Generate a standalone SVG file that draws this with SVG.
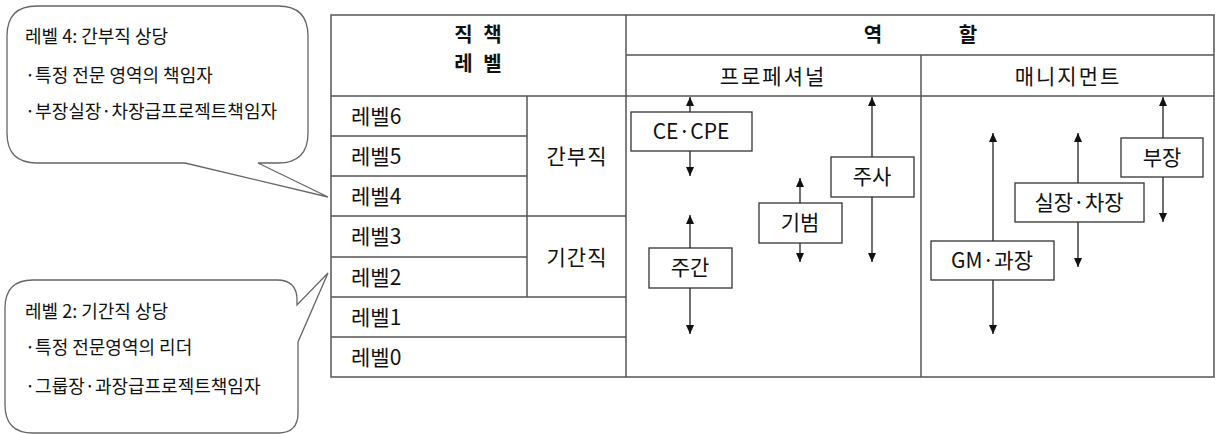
<svg xmlns="http://www.w3.org/2000/svg" width="1215" height="434" viewBox="0 0 1215 434">
<style>
text{font-family:"Noto Sans CJK KR","Malgun Gothic",sans-serif;fill:#111;}
.grid{stroke:#555;stroke-width:1.5;fill:none;}
.callout{stroke:#666;stroke-width:1.3;fill:#fff;}
.ct{font-size:18px;}
.lv{font-size:21px;}
.hd{font-size:20px;font-weight:bold;}
.sub{font-size:21px;letter-spacing:2px;}
.box{fill:#fff;stroke:#333;stroke-width:1.3;}
.bt{font-size:21px;}
.arr{stroke:#222;stroke-width:1.3;fill:none;marker-end:url(#ah);}
</style>
<defs>
<marker id="ah" markerUnits="userSpaceOnUse" markerWidth="10" markerHeight="8" refX="9" refY="4" orient="auto" viewBox="0 0 10 8">
<path d="M0,0 L9,4 L0,8 Z" fill="#111"/>
</marker>
</defs>
<rect width="1215" height="434" fill="#fff"/>

<g id="callout-1">
<path class="callout" d="M37,6 H278 Q308,6 308,36 V133 Q308,163 278,163 H258 L328,197 L185,163 H37 Q7,163 7,133 V36 Q7,6 37,6 Z"/>
<text class="ct" x="25" y="43">레벨 4: 간부직 상당</text>
<text class="ct" x="25" y="82">·특정 전문 영역의 책임자</text>
<text class="ct" x="25" y="118">·부장실장·차장급프로젝트책임자</text>
</g>

<g id="callout-2">
<path class="callout" d="M33,280 H277 Q297,280 297,300 V305 L328,273 L298,342 V413 Q298,433 278,433 H33 Q5,433 5,405 V308 Q5,280 33,280 Z"/>
<text class="ct" x="25" y="318">레벨 2: 기간직 상당</text>
<text class="ct" x="25" y="354">·특정 전문영역의 리더</text>
<text class="ct" x="25" y="393">·그룹장·과장급프로젝트책임자</text>
</g>

<g id="table">
<rect class="grid" x="331" y="15" width="883" height="362"/>
<line class="grid" x1="626" y1="55" x2="1214" y2="55"/>
<line class="grid" x1="331" y1="96" x2="1214" y2="96"/>
<line class="grid" x1="626" y1="15" x2="626" y2="377"/>
<line class="grid" x1="921" y1="55" x2="921" y2="377"/>
<line class="grid" x1="527" y1="96" x2="527" y2="297"/>
<line class="grid" x1="331" y1="136" x2="527" y2="136"/>
<line class="grid" x1="331" y1="176" x2="527" y2="176"/>
<line class="grid" x1="331" y1="216" x2="626" y2="216"/>
<line class="grid" x1="331" y1="257" x2="527" y2="257"/>
<line class="grid" x1="331" y1="297" x2="626" y2="297"/>
<line class="grid" x1="331" y1="337" x2="626" y2="337"/>
<text class="hd" x="478" y="42" text-anchor="middle" xml:space="preserve" word-spacing="6">직 책</text>
<text class="hd" x="478" y="71" text-anchor="middle" xml:space="preserve" word-spacing="6">레 벨</text>
<text class="hd" x="873" y="42" text-anchor="middle">역</text>
<text class="hd" x="968" y="42" text-anchor="middle">할</text>
<text class="sub" x="773" y="84" text-anchor="middle">프로페셔널</text>
<text class="sub" x="1068" y="84" text-anchor="middle">매니지먼트</text>
<text class="lv" x="351" y="124">레벨6</text>
<text class="lv" x="351" y="164">레벨5</text>
<text class="lv" x="351" y="204">레벨4</text>
<text class="lv" x="351" y="244">레벨3</text>
<text class="lv" x="351" y="285">레벨2</text>
<text class="lv" x="351" y="325">레벨1</text>
<text class="lv" x="351" y="365">레벨0</text>
<text class="lv" x="577" y="164" text-anchor="middle" letter-spacing="1">간부직</text>
<text class="lv" x="577" y="265" text-anchor="middle" letter-spacing="1">기간직</text>
</g>

<g id="connectors">
<path class="arr" d="M690,112 V97"/>
<path class="arr" d="M690,151 V176"/>
<path class="arr" d="M872,157 V97"/>
<path class="arr" d="M872,197 V262"/>
<path class="arr" d="M800,203 V178"/>
<path class="arr" d="M800,243 V262"/>
<path class="arr" d="M690,248 V215"/>
<path class="arr" d="M690,288 V334"/>
<path class="arr" d="M1163,138 V97"/>
<path class="arr" d="M1163,177 V222"/>
<path class="arr" d="M1078,183 V133"/>
<path class="arr" d="M1078,222 V267"/>
<path class="arr" d="M993,241 V133"/>
<path class="arr" d="M993,280 V334"/>
</g>

<g id="node-ce-cpe">
<rect class="box" x="631" y="112" width="121" height="39"/>
<text class="bt" x="691" y="139" text-anchor="middle">CE·CPE</text>
</g>
<g id="node-jusa">
<rect class="box" x="831" y="157" width="83" height="40"/>
<text class="bt" x="872" y="184" text-anchor="middle">주사</text>
</g>
<g id="node-gibeom">
<rect class="box" x="759" y="203" width="83" height="40"/>
<text class="bt" x="800" y="230" text-anchor="middle">기범</text>
</g>
<g id="node-jugan">
<rect class="box" x="649" y="248" width="83" height="40"/>
<text class="bt" x="690" y="275" text-anchor="middle">주간</text>
</g>
<g id="node-bujang">
<rect class="box" x="1121" y="138" width="82" height="39"/>
<text class="bt" x="1162" y="165" text-anchor="middle">부장</text>
</g>
<g id="node-siljang">
<rect class="box" x="1015" y="183" width="129" height="39"/>
<text class="bt" x="1079" y="210" text-anchor="middle">실장·차장</text>
</g>
<g id="node-gm">
<rect class="box" x="931" y="241" width="123" height="39"/>
<text class="bt" x="992" y="268" text-anchor="middle">GM·과장</text>
</g>
</svg>
